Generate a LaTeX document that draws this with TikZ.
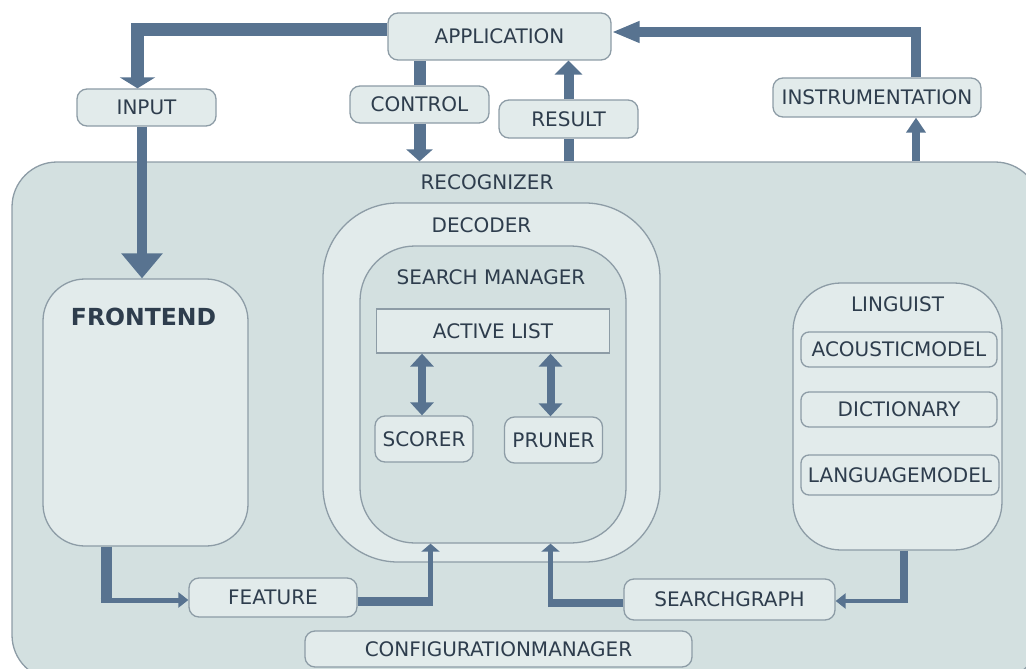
\documentclass[tikz,border=0pt]{standalone}
\usepackage{fontspec}
\setmainfont{DejaVu Sans}
\usepackage{xcolor}
\usepackage{tikz}
\usetikzlibrary{arrows.meta,positioning}

\definecolor{flowblue}{HTML}{587390}
\definecolor{boxfill}{HTML}{E2EBEB}
\definecolor{regionfill}{HTML}{D3E0E0}
\definecolor{edgegray}{HTML}{8D9CA6}
\definecolor{inktext}{HTML}{2E3D4D}

\begin{document}
\begin{tikzpicture}[
  x=1pt, y=-1pt,
  font=\fontsize{20}{24}\selectfont, text=inktext,
  module/.style={draw=edgegray, fill=boxfill, line width=1.3pt, rounded corners=10pt, inner sep=0pt},
  holder/.style={draw=edgegray, line width=1.3pt, inner sep=0pt},
  flow/.style={draw=flowblue, line width=11pt},
  wire/.style={draw=flowblue, line width=5pt},
  smalltip/.style={-{Triangle[width=15pt,length=10pt]}},
  twotip/.style={{Triangle[width=23pt,length=13pt]}-{Triangle[width=23pt,length=13pt]}}
]
\useasboundingbox (0,0) rectangle (1026,669);
\clip (0,0) rectangle (1026,669);

% recognizer region
\node[holder, fill=regionfill, rounded corners=45pt, minimum width=1028pt, minimum height=518pt,
  label={[below=10pt, xshift=-39pt]north:RECOGNIZER}] (recog) at (526,421) {};

% outside modules
\node[module, minimum width=223pt, minimum height=47pt] (app) at (499.5,36.5) {APPLICATION};
\node[module, minimum width=139pt, minimum height=37pt] (input) at (146.5,107.5) {INPUT};
\node[module, minimum width=139pt, minimum height=37pt] (control) at (419.5,104.5) {CONTROL};
\node[module, minimum width=139pt, minimum height=38pt] (result) at (568.5,119) {RESULT};
\node[module, minimum width=208pt, minimum height=39pt] (instr) at (877,97.5) {INSTRUMENTATION};

% frontend
\node[holder, fill=boxfill, rounded corners=42pt, minimum width=205pt, minimum height=267pt,
  label={[below=26pt, xshift=-2pt, font=\fontsize{23.5}{26}\selectfont\bfseries]north:FRONTEND}] (frontend) at (145.5,412.5) {};

% decoder
\node[holder, fill=boxfill, rounded corners=75pt, minimum width=337pt, minimum height=359pt,
  label={[below=12pt, xshift=-10pt]north:DECODER}] (decoder) at (491.5,382.5) {};
\node[holder, fill=regionfill, rounded corners=55pt, minimum width=266pt, minimum height=297pt,
  label={[below=21pt, xshift=-2pt]north:SEARCH MANAGER}] (searchmgr) at (493,394.5) {};
\node[holder, fill=boxfill, minimum width=233pt, minimum height=44pt] (activelist) at (493,331) {ACTIVE LIST};
\node[module, minimum width=98pt, minimum height=46pt] (scorer) at (424,439) {SCORER};
\node[module, minimum width=98pt, minimum height=46pt] (pruner) at (553.5,440) {PRUNER};

% linguist
\node[holder, fill=boxfill, rounded corners=48pt, minimum width=209pt, minimum height=267pt,
  label={[below=11pt]north:LINGUIST}] (linguist) at (897.5,416.5) {};
\node[module, rounded corners=8pt, minimum width=196pt, minimum height=35pt] (acoustic) at (899,349.5) {ACOUSTICMODEL};
\node[module, rounded corners=8pt, minimum width=196pt, minimum height=35pt] (dictionary) at (899,409.5) {DICTIONARY};
\node[module, rounded corners=8pt, minimum width=198pt, minimum height=40pt] (langmodel) at (900,475) {LANGUAGEMODEL};

% bottom modules
\node[module, minimum width=168pt, minimum height=39pt] (feature) at (273,597.5) {FEATURE};
\node[module, minimum width=211pt, minimum height=41pt] (searchgraph) at (729.5,599.5) {SEARCHGRAPH};
\node[module, minimum width=387pt, minimum height=36pt] (config) at (498.5,649) {CONFIGURATIONMANAGER};

% application loop
\draw[flow, line width=13pt, -{Triangle[width=35pt,length=11pt]}] ([yshift=7pt]app.west) -| ([xshift=-9pt]input.north);
\draw[flow, line width=10pt, -{Triangle[width=40pt,length=25pt]}] ([xshift=-4.5pt]input.south) -- ([xshift=-3.5pt]frontend.north);
\draw[flow, line width=12pt] (control.north) -- (control.north |- app.south);
\draw[flow, line width=12pt, -{Triangle[width=26pt,length=12pt]}] (control.south) -- (control.south |- recog.north);
\draw[flow, line width=10pt] (recog.north -| result.south) -- (result.south);
\draw[flow, line width=10pt, -{Triangle[width=27pt,length=14pt]}] (result.north) -- (result.north |- app.south);
\coordinate (ileg) at ([xshift=39pt]instr.south);
\coordinate (itop) at ([xshift=39pt]instr.north);
\draw[flow, line width=8pt, -{Triangle[width=19pt,length=15pt]}] (recog.north -| ileg) -- (ileg);
\draw[flow, line width=10pt, -{Triangle[width=20pt,length=28pt]}] (itop) |- ([yshift=4.5pt]app.east);

% search manager internals
\draw[flow, line width=8pt, twotip] ([xshift=-71pt]activelist.south) -- ([xshift=-71pt]activelist.south |- scorer.north);
\draw[flow, line width=8pt, twotip] ([xshift=57.5pt]activelist.south) -- ([xshift=57.5pt]activelist.south |- pruner.north);

% feature path
\coordinate (fleg) at ([xshift=-39.5pt]frontend.south);
\coordinate (fin) at ([yshift=-2.5pt]feature.west);
\draw[flow] (fleg) -- (fleg |- fin);
\draw[wire, smalltip] ([xshift=-5.5pt]fleg |- fin) -- (fin);
\coordinate (fup) at ([xshift=-62.5pt]searchmgr.south);
\coordinate (fout) at ([yshift=-4pt]feature.east);
\draw[flow, line width=9pt] (fout) -- ([xshift=2.5pt]fup |- fout);
\draw[wire, -{Triangle[width=18pt,length=8pt]}] ([yshift=-4.5pt]fup |- fout) -- (fup);

% search graph path
\coordinate (gleg) at ([xshift=6.5pt]linguist.south);
\coordinate (gin) at ([yshift=-1.5pt]searchgraph.east);
\draw[flow, line width=8pt] (gleg) -- (gleg |- gin);
\draw[wire, line width=4pt, smalltip] ([xshift=4pt]gleg |- gin) -- (gin);
\coordinate (gup) at ([xshift=57.5pt]searchmgr.south);
\coordinate (gout) at ([yshift=-3.5pt]searchgraph.west);
\draw[flow, line width=8pt] (gout) -- ([xshift=-2.5pt]gup |- gout);
\draw[wire, -{Triangle[width=18pt,length=8pt]}] ([yshift=-4pt]gup |- gout) -- (gup);
\end{tikzpicture}
\end{document}
